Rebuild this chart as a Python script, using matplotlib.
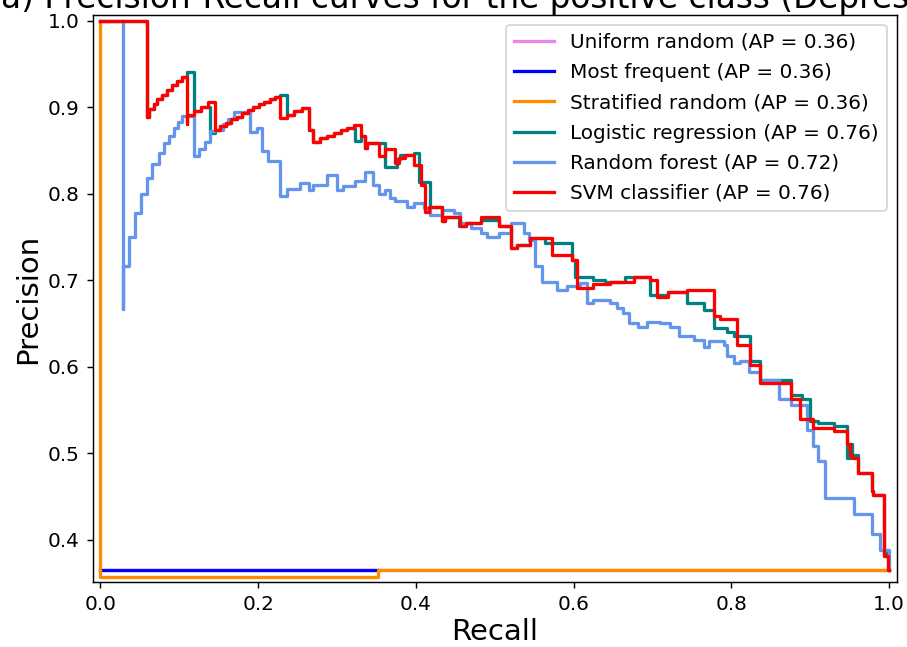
import numpy as np
import matplotlib
matplotlib.use("Agg")
import matplotlib.pyplot as plt

# step curves: each pair = (recall where a flat segment starts, its precision)
unif_r = [0.0, 1.0]
unif_p = [0.3645, 0.3645]

freq_r = [0.0, 0.352]
freq_p = [0.3645, 0.3645]

strat_r = [0.0, 0.0, 0.352, 1.0]
strat_p = [1.0, 0.357, 0.3645, 0.3645]

svm_r = [0.0, 0.0591, 0.0615, 0.0675, 0.0718, 0.078, 0.0845, 0.091, 0.097, 0.1035,
         0.1098, 0.1098, 0.1183, 0.127, 0.137,
         0.1458, 0.152, 0.159, 0.166, 0.173, 0.180, 0.187, 0.194, 0.201, 0.208, 0.215, 0.221,
         0.228, 0.237, 0.246, 0.255, 0.264, 0.270, 0.278, 0.287, 0.296, 0.305, 0.313, 0.322,
         0.331, 0.336, 0.338, 0.353, 0.361, 0.374, 0.378, 0.386, 0.397, 0.406, 0.412, 0.416,
         0.433, 0.437, 0.456, 0.463, 0.482, 0.505, 0.520, 0.528, 0.545, 0.572, 0.598,
         0.604, 0.625, 0.646, 0.676, 0.697, 0.706, 0.720, 0.744, 0.778, 0.786, 0.807,
         0.824, 0.836, 0.875, 0.887, 0.904, 0.930, 0.947, 0.950, 0.953, 0.955, 0.961,
         0.978, 0.980, 0.993, 0.999, 1.0]
svm_p = [1.0, 0.889, 0.898, 0.904, 0.909, 0.914, 0.920, 0.925, 0.930, 0.935,
         0.881, 0.891, 0.895, 0.900, 0.906,
         0.874, 0.878, 0.882, 0.886, 0.889, 0.893, 0.897, 0.900, 0.903, 0.906, 0.909, 0.912,
         0.887, 0.891, 0.895, 0.899, 0.874, 0.860, 0.864, 0.867, 0.870, 0.873, 0.876, 0.879,
         0.866, 0.853, 0.858, 0.843, 0.851, 0.835, 0.841, 0.845, 0.833, 0.810, 0.779, 0.785,
         0.768, 0.773, 0.762, 0.766, 0.773, 0.763, 0.737, 0.741, 0.749, 0.729, 0.723,
         0.691, 0.695, 0.698, 0.703, 0.700, 0.681, 0.686, 0.688, 0.658, 0.655, 0.625,
         0.602, 0.581, 0.562, 0.539, 0.529, 0.525, 0.510, 0.498, 0.494, 0.494, 0.477,
         0.456, 0.451, 0.381, 0.365, 0.365]

logit_r = [0.0, 0.0591, 0.0615, 0.0675, 0.0718, 0.078, 0.0845, 0.091, 0.097, 0.1035,
           0.1098, 0.1183, 0.127, 0.1394,
           0.1458, 0.152, 0.159, 0.166, 0.173, 0.180, 0.187, 0.194, 0.201, 0.208, 0.215, 0.221,
           0.228, 0.236, 0.246, 0.255, 0.264, 0.270, 0.278, 0.287, 0.296, 0.305, 0.313, 0.323,
           0.331, 0.336, 0.338, 0.361, 0.376, 0.380, 0.397, 0.404, 0.418,
           0.433, 0.437, 0.455, 0.463, 0.482, 0.505, 0.520, 0.528, 0.545, 0.564, 0.598,
           0.602, 0.625, 0.640, 0.665, 0.697, 0.720, 0.744, 0.765, 0.778, 0.794, 0.803,
           0.824, 0.836, 0.875, 0.890, 0.900, 0.910, 0.930, 0.947, 0.950, 0.953, 0.961,
           0.978, 0.980, 0.993, 0.999, 1.0]
logit_p = [1.0, 0.889, 0.898, 0.904, 0.909, 0.914, 0.920, 0.925, 0.930, 0.935,
           0.941, 0.895, 0.900, 0.870,
           0.874, 0.878, 0.882, 0.886, 0.889, 0.893, 0.897, 0.900, 0.903, 0.906, 0.909, 0.912,
           0.914, 0.891, 0.895, 0.899, 0.874, 0.860, 0.864, 0.867, 0.870, 0.873, 0.876, 0.861,
           0.866, 0.853, 0.858, 0.831, 0.840, 0.845, 0.847, 0.813, 0.785,
           0.768, 0.773, 0.762, 0.766, 0.770, 0.763, 0.737, 0.741, 0.749, 0.743, 0.723,
           0.704, 0.700, 0.698, 0.703, 0.683, 0.686, 0.673, 0.665, 0.645, 0.640, 0.635,
           0.606, 0.585, 0.567, 0.562, 0.537, 0.535, 0.531, 0.494, 0.510, 0.498, 0.477,
           0.456, 0.451, 0.385, 0.365, 0.365]

rf_r = [0.0, 0.0287, 0.0287, 0.0359, 0.0444, 0.052, 0.0591, 0.0655, 0.0739, 0.0803, 0.0866,
        0.0929, 0.098, 0.1035, 0.1183, 0.1246, 0.1331, 0.1394, 0.1458, 0.155, 0.162, 0.169,
        0.190, 0.199, 0.205, 0.212, 0.228, 0.236, 0.253, 0.264, 0.270, 0.287, 0.300, 0.308,
        0.323, 0.336, 0.346, 0.353, 0.361, 0.367, 0.374, 0.389, 0.397, 0.410, 0.418, 0.433,
        0.448, 0.456, 0.470, 0.482, 0.490, 0.505, 0.520, 0.537, 0.543, 0.551, 0.560, 0.579,
        0.592, 0.608, 0.617, 0.625, 0.646, 0.655, 0.663, 0.670, 0.682, 0.693, 0.710, 0.722,
        0.733, 0.752, 0.765, 0.771, 0.790, 0.794, 0.803, 0.811, 0.822, 0.836, 0.860, 0.875,
        0.896, 0.904, 0.910, 0.919, 0.955, 0.978, 0.989, 1.0]
rf_p = [1.0, 0.667, 0.716, 0.750, 0.778, 0.800, 0.818, 0.834, 0.847, 0.858, 0.867,
        0.876, 0.883, 0.890, 0.843, 0.851, 0.860, 0.872, 0.874, 0.880, 0.886, 0.894,
        0.871, 0.876, 0.849, 0.838, 0.797, 0.805, 0.812, 0.804, 0.810, 0.821, 0.804, 0.809,
        0.814, 0.825, 0.810, 0.800, 0.804, 0.795, 0.791, 0.785, 0.789, 0.783, 0.775, 0.781,
        0.777, 0.766, 0.760, 0.754, 0.750, 0.755, 0.766, 0.754, 0.746, 0.716, 0.698, 0.688,
        0.693, 0.697, 0.674, 0.677, 0.673, 0.668, 0.662, 0.650, 0.646, 0.652, 0.650, 0.646,
        0.635, 0.631, 0.623, 0.629, 0.625, 0.612, 0.604, 0.606, 0.594, 0.585, 0.563, 0.556,
        0.527, 0.508, 0.491, 0.448, 0.430, 0.406, 0.388, 0.365]

curves = [
    (unif_r, unif_p, "violet", "Uniform random (AP = 0.36)"),
    (freq_r, freq_p, "blue", "Most frequent (AP = 0.36)"),
    (strat_r, strat_p, "darkorange", "Stratified random (AP = 0.36)"),
    (logit_r, logit_p, "teal", "Logistic regression (AP = 0.76)"),
    (rf_r, rf_p, "cornflowerblue", "Random forest (AP = 0.72)"),
    (svm_r, svm_p, "red", "SVM classifier (AP = 0.76)"),
]

fig, ax = plt.subplots(figsize=(907 / 131, 647 / 131), dpi=131)
fig.subplots_adjust(left=0.102, right=0.989, bottom=0.100, top=0.977)

for r, p, c, lab in curves:
    ax.plot(r, p, drawstyle="steps-post", color=c, lw=1.8, label=lab)

ax.set_xlim(-0.01, 1.01)
ax.set_ylim(0.3506, 1.0066)
ax.tick_params(labelsize=11)
ax.set_xlabel("Recall", fontsize=16, labelpad=2)
ax.set_ylabel("Precision", fontsize=16, labelpad=3)
ax.set_title("a) Precision-Recall curves for the positive class (Depression)", fontsize=18, pad=3.5)
ax.legend(loc="upper right", fontsize=11, labelspacing=0.56)

fig.savefig("out.png", dpi=131)
